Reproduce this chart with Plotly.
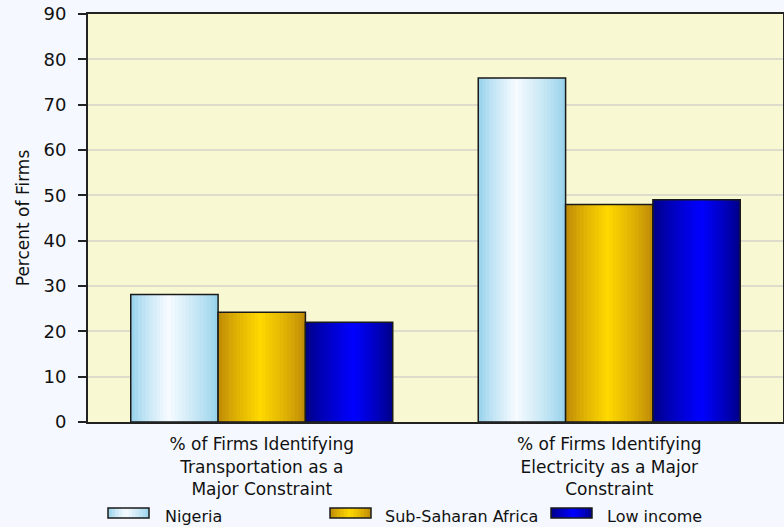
import plotly.graph_objects as go

# 데이터
categories = [
    "% of Firms Identifying<br>Transportation as a<br>Major Constraint",
    "% of Firms Identifying<br>Electricity as a Major<br>Constraint",
]
series_names = ["Nigeria", "Sub-Saharan Africa", "Low income"]
nigeria = [28.1, 75.9]
ssa = [24.2, 48.0]
low_income = [22.0, 49.0]
series_values = [nigeria, ssa, low_income]

# 막대 그라데이션 색 (가장자리, 하이라이트, 하이라이트 위치)
gradients = [
    ((146, 208, 234), (246, 251, 255), 0.43),
    ((186, 134, 8), (255, 216, 0), 0.48),
    ((0, 0, 128), (0, 0, 255), 0.55),
]

W, H = 784, 527
L, R, T, B = 88, 1, 14, 105
PW, PH = W - L - R, H - T - B

N_SLICES = 24
bar_w = 0.2513
group_start = -1.5 * bar_w


def blend(c0, c1, f):
    return "rgb(%d,%d,%d)" % tuple(round(a + (b - a) * f) for a, b in zip(c0, c1))


def grad_color(grad, t):
    edge, hi, pos = grad
    f = t / pos if t < pos else (1 - t) / (1 - pos)
    return blend(edge, hi, f ** 0.8)


fig = go.Figure()

for i, (name, vals) in enumerate(zip(series_names, series_values)):
    start = group_start + i * bar_w
    sw = bar_w / N_SLICES
    # 얇은 막대 조각으로 가로 방향 그라데이션 흉내 (겹치게 그려서 틈 제거)
    for k in range(N_SLICES):
        t = (k + 0.5) / N_SLICES
        fig.add_trace(go.Bar(
            x=categories, y=vals,
            width=sw * 1.8 if k < N_SLICES - 1 else sw,
            offset=start + k * sw,
            marker=dict(color=grad_color(gradients[i], t), line=dict(width=0)),
            showlegend=False, hoverinfo="skip",
        ))
    # 테두리
    fig.add_trace(go.Bar(
        x=categories, y=vals, width=bar_w, offset=start, name=name,
        marker=dict(color="rgba(0,0,0,0)", line=dict(color="#1a1a1a", width=1.5)),
        showlegend=False, hovertemplate="%{y}<extra>" + name + "</extra>",
    ))


# 범례 (수동, 픽셀 -> paper 좌표)
def px_x(p):
    return (p - L) / PW


def px_y(p):
    return (H - B - p) / PH


legend_pos = [(108, 163), (330, 383), (551, 605)]
for i, (name, (sx, tx)) in enumerate(zip(series_names, legend_pos)):
    sw_px = 41
    n = 12
    for k in range(n):
        t = (k + 0.5) / n
        fig.add_shape(type="rect", xref="paper", yref="paper",
                      x0=px_x(sx + k * sw_px / n), x1=px_x(sx + (k + 1.6) * sw_px / n if k < n - 1 else sx + sw_px),
                      y0=px_y(518), y1=px_y(508),
                      fillcolor=grad_color(gradients[i], t), line=dict(width=0), layer="above")
    fig.add_shape(type="rect", xref="paper", yref="paper",
                  x0=px_x(sx), x1=px_x(sx + sw_px), y0=px_y(518), y1=px_y(508),
                  line=dict(color="#1a1a1a", width=1.5), layer="above")
    fig.add_annotation(x=px_x(tx), y=px_y(516), xref="paper", yref="paper",
                       text=name, showarrow=False, xanchor="left", yanchor="middle",
                       font=dict(size=16, color="#111"))

fig.update_layout(
    width=W, height=H,
    margin=dict(l=L, r=R, t=T, b=B, autoexpand=False),
    barmode="overlay",
    paper_bgcolor="#F5F9FF",
    plot_bgcolor="#F8F8D2",
    font=dict(family="DejaVu Sans", size=17, color="#111"),
    showlegend=False,
    xaxis=dict(
        showline=True, linecolor="#222", linewidth=2, mirror=True,
        ticks="", showgrid=False, ticklabelstandoff=6,
        tickfont=dict(size=17), range=[-0.5, 1.5],
    ),
    yaxis=dict(
        range=[0, 90], dtick=10, showline=True, linecolor="#222", linewidth=2, mirror=True,
        ticks="outside", ticklen=8, tickcolor="#222", tickwidth=1.5,
        gridcolor="#DEDCCB", gridwidth=1.5, zeroline=False,
        tickfont=dict(size=18), ticklabelstandoff=8,
        title=dict(text="Percent of Firms", font=dict(size=17), standoff=10),
    ),
)

# 브라우저 기본 body 여백 제거, 모드바 숨김
fig.write_html("out.html", config={"displayModeBar": False},
               post_script="document.body.style.margin='0';")
